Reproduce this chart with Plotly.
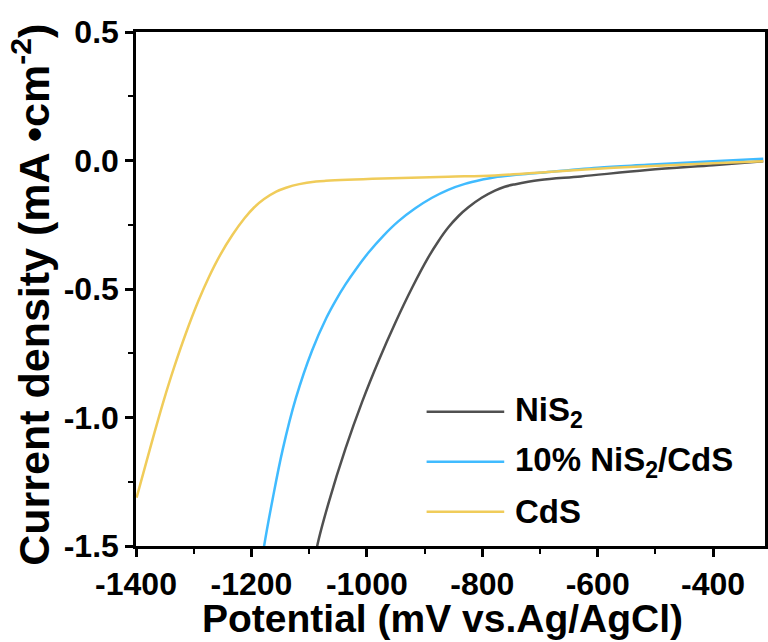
import plotly.graph_objects as go

# Potential (mV vs. Ag/AgCl) and current density (mA cm^-2)
cds_x = [-1399, -1384, -1368, -1352, -1334, -1314, -1292, -1274, -1254, -1233, -1212,
         -1195, -1178, -1157, -1140, -1117, -1088, -1071, -973, -859, -778, -686,
         -600, -514, -400, -313]
cds_y = [-1.312, -1.189, -1.059, -0.934, -0.805, -0.675, -0.547, -0.455, -0.367, -0.290, -0.225,
         -0.182, -0.150, -0.121, -0.106, -0.092, -0.082, -0.079, -0.070, -0.063, -0.058, -0.045,
         -0.032, -0.022, -0.011, -0.003]

nis2cds_x = [-1182, -1178, -1163, -1146, -1123, -1095, -1070, -1054, -1037, -1017, -997,
             -971, -945, -916, -887, -859, -830, -801, -778, -700, -600, -514, -400, -313]
nis2cds_y = [-1.56, -1.500, -1.315, -1.127, -0.925, -0.740, -0.612, -0.545, -0.482, -0.417, -0.358,
             -0.292, -0.236, -0.186, -0.145, -0.114, -0.091, -0.075, -0.065, -0.048, -0.028,
             -0.017, -0.003, 0.007]

nis2_x = [-1090, -1086, -1066, -1037, -1008, -979, -951, -922, -893, -876, -859,
          -841, -824, -801, -778, -761, -744, -700, -629, -514, -400, -313]
nis2_y = [-1.56, -1.500, -1.330, -1.121, -0.938, -0.776, -0.633, -0.497, -0.375, -0.314, -0.261,
          -0.216, -0.182, -0.145, -0.117, -0.102, -0.093, -0.076, -0.062, -0.037, -0.018, -0.003]

names = ["NiS<sub>2</sub>", "10% NiS<sub>2</sub>/CdS", "CdS"]
colors = ["#505050", "#40BBFF", "#F0CC5A"]

x_ticks = [-1400, -1200, -1000, -800, -600, -400]
y_ticks = [-1.5, -1.0, -0.5, 0.0, 0.5]

x_title = "Potential (mV vs.Ag/AgCl)"
y_title = "Current density (mA \u2022cm<sup>-2</sup>)"

FONT = "Liberation Sans, Arial, sans-serif"

fig = go.Figure()
for xs, ys, nm, c in [(nis2_x, nis2_y, names[0], colors[0]),
                      (nis2cds_x, nis2cds_y, names[1], colors[1]),
                      (cds_x, cds_y, names[2], colors[2])]:
    fig.add_trace(go.Scatter(x=xs, y=ys, mode="lines", name=nm,
                             line=dict(color=c, width=2.5, shape="spline", smoothing=1.0),
                             showlegend=False))

# legend drawn as short lines with labels
leg_y = [0.2613, 0.164, 0.0667]
for nm, c, yy in zip(names, colors, leg_y):
    fig.add_shape(type="line", xref="paper", yref="paper", x0=0.462, x1=0.5854, y0=yy, y1=yy,
                  line=dict(color=c, width=2.5))
    fig.add_annotation(xref="paper", yref="paper", x=0.5997, y=yy, text=nm, showarrow=False,
                       xanchor="left", yanchor="middle",
                       font=dict(family=FONT, size=33, color="black", weight="bold"))

# axis titles
fig.add_annotation(xref="paper", yref="paper", x=0.4873, y=-0.142, text=x_title,
                   showarrow=False, xanchor="center", yanchor="middle",
                   font=dict(family=FONT, size=39, color="black", weight="bold"))
fig.add_annotation(xref="paper", yref="paper", x=-0.166, y=0.488, text=y_title,
                   showarrow=False, xanchor="center", yanchor="middle", textangle=-90,
                   font=dict(family=FONT, size=43, color="black", weight="bold"))

fig.update_layout(
    width=768, height=642,
    margin=dict(l=136, r=0, t=32, b=96),
    paper_bgcolor="white", plot_bgcolor="white",
    font=dict(family=FONT, color="black"),
)
fig.update_xaxes(
    range=[-1400, -310], tickvals=x_ticks, ticktext=[str(v) for v in x_ticks],
    ticks="outside", ticklen=8, tickwidth=2.5, tickcolor="black",
    minor=dict(dtick=100, ticks="outside", ticklen=5, tickwidth=2, tickcolor="black"),
    showline=True, linewidth=2.5, linecolor="black", mirror=True,
    showgrid=False, zeroline=False,
    tickfont=dict(family=FONT, size=32, weight="bold"),
)
fig.update_yaxes(
    range=[-1.5, 0.5], tickvals=y_ticks, ticktext=["%.1f" % v for v in y_ticks],
    ticks="outside", ticklen=8, tickwidth=2.5, tickcolor="black",
    minor=dict(dtick=0.25, ticks="outside", ticklen=5, tickwidth=2, tickcolor="black"),
    showline=True, linewidth=2.5, linecolor="black", mirror=True,
    showgrid=False, zeroline=False,
    tickfont=dict(family=FONT, size=32, weight="bold"),
)
fig.write_html("out.html")
